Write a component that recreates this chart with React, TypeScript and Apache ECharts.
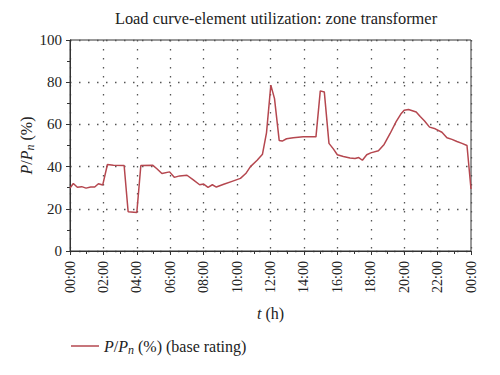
import React, { useEffect, useRef } from "react";
import * as echarts from "echarts";

const hours: number[] = [
  0, 0.2, 0.44, 0.7, 0.96, 1.24, 1.48, 1.7, 1.96, 2.24, 2.6, 3.24, 3.48, 4.0, 4.24, 4.96,
  5.2, 5.5, 5.96, 6.24, 6.56, 7.0, 7.36, 7.76, 8.0, 8.26, 8.52, 8.76, 9.2, 9.7, 10.2,
  10.52, 10.8, 11.2, 11.52, 11.76, 12.02, 12.24, 12.52, 12.7, 12.96, 13.36, 13.96, 14.72,
  14.98, 15.22, 15.5, 15.76, 16.0, 16.36, 16.76, 17.06, 17.28, 17.5, 17.76, 18.0, 18.46,
  18.8, 19.16, 19.52, 19.8, 20.0, 20.26, 20.72, 20.96, 21.22, 21.52, 21.86, 22.26, 22.56,
  22.86, 23.16, 23.46, 23.76, 24.0,
];
const utilization: number[] = [
  29.8, 32, 30.2, 30.5, 29.8, 30.3, 30.3, 31.9, 31.3, 41, 40.6, 40.5, 18.6, 18.3, 40.5, 40.6,
  39, 36.7, 37.5, 34.9, 35.6, 35.9, 33.8, 31.4, 31.7, 30.2, 31.4, 30.3, 31.6, 33, 34.4,
  36.7, 40, 43, 45.9, 56, 78.6, 72.2, 52.4, 52.1, 53.2, 53.7, 54.1, 54.1,
  75.9, 75.4, 51, 48.4, 45.6, 44.8, 44.1, 43.8, 44.3, 43, 45.6, 46.5, 47.5,
  50.5, 55.7, 61.3, 64.9, 66.7, 67.1, 65.9, 63.7, 61.6, 58.7, 57.9, 56.3, 53.7,
  52.9, 51.9, 51, 50, 29.4,
];
const xTickLabels: string[] = [
  "00:00", "02:00", "04:00", "06:00", "08:00", "10:00", "12:00",
  "14:00", "16:00", "18:00", "20:00", "22:00", "00:00",
];
const seriesName = "P/Pn (%) (base rating)";
const titleText = "Load curve-element utilization: zone transformer";

const FONT = "Liberation Serif";
const TXT = "#222";

export default function App() {
  const ref = useRef<HTMLDivElement>(null);
  useEffect(() => {
    if (!ref.current) return;
    const chart = echarts.init(ref.current, undefined, { renderer: "svg" });
    const italicRich = {
      i: { fontFamily: FONT, fontStyle: "italic", fontSize: 16, color: TXT },
      r: { fontFamily: FONT, fontSize: 16, color: TXT },
      sub: { fontFamily: FONT, fontStyle: "italic", fontSize: 12, color: TXT, verticalAlign: "bottom", padding: [7, 0, 0, 0] },
    };
    const dots = { color: "#555", type: [1.5, 7.5], width: 1.3 };
    chart.setOption({
      animation: false,
      backgroundColor: "#fff",
      textStyle: { fontFamily: FONT },
      title: {
        text: titleText,
        left: 271,
        textAlign: "center",
        top: 5,
        textStyle: { fontFamily: FONT, fontSize: 16.4, fontWeight: "normal", color: TXT },
      },
      grid: {
        left: 70,
        right: 29,
        top: 40,
        bottom: 124,
        show: true,
        borderColor: "#333",
        borderWidth: 1,
        backgroundColor: "transparent",
      },
      legend: {
        left: 66,
        top: 333,
        itemWidth: 28,
        itemHeight: 1.5,
        icon: "rect",
        itemGap: 6,
        data: [{ name: seriesName }],
        formatter: () => "{i|P}{r|/}{i|P}{sub|n}{r| (%) (base rating)}",
        textStyle: { rich: italicRich },
      },
      xAxis: {
        type: "value",
        min: 0,
        max: 24,
        interval: 2,
        name: "{i|t}{r| (h)}",
        nameLocation: "middle",
        nameGap: 54,
        nameMoveOverlap: false,
        nameTextStyle: { rich: italicRich },
        axisLine: { show: true, lineStyle: { color: "#333" } },
        axisTick: { show: true, inside: false, length: 4, lineStyle: { color: "#333" } },
        minorTick: { show: true, splitNumber: 2, length: 3, lineStyle: { color: "#333" } },
        axisLabel: {
          rotate: 90,
          margin: 10,
          fontFamily: FONT,
          fontSize: 14,
          color: TXT,
          formatter: (v: number) => xTickLabels[Math.round(v / 2)] ?? "",
        },
        splitLine: { show: true, lineStyle: dots },
      },
      yAxis: {
        type: "value",
        min: 0,
        max: 100,
        interval: 20,
        name: "{i|P}{r|/}{i|P}{sub|n}{r| (%)}",
        nameLocation: "middle",
        nameGap: 34,
        nameMoveOverlap: false,
        nameTextStyle: { rich: italicRich },
        axisLine: { show: true, lineStyle: { color: "#333" } },
        axisTick: { show: true, inside: false, length: 4, lineStyle: { color: "#333" } },
        minorTick: { show: true, splitNumber: 2, length: 3, lineStyle: { color: "#333" } },
        axisLabel: { fontFamily: FONT, fontSize: 15, color: TXT, margin: 8 },
        splitLine: { show: true, lineStyle: dots },
      },
      series: [
        {
          name: seriesName,
          type: "line",
          data: hours.map((h, i) => [h, utilization[i]]),
          symbol: "none",
          lineStyle: { color: "#b5474f", width: 1.5 },
          itemStyle: { color: "#b5474f" },
        },
      ],
    });
    return () => chart.dispose();
  }, []);
  return (
    <div
      ref={ref}
      style={{ position: "fixed", left: 0, top: 0, width: 500, height: 375 }}
    />
  );
}
